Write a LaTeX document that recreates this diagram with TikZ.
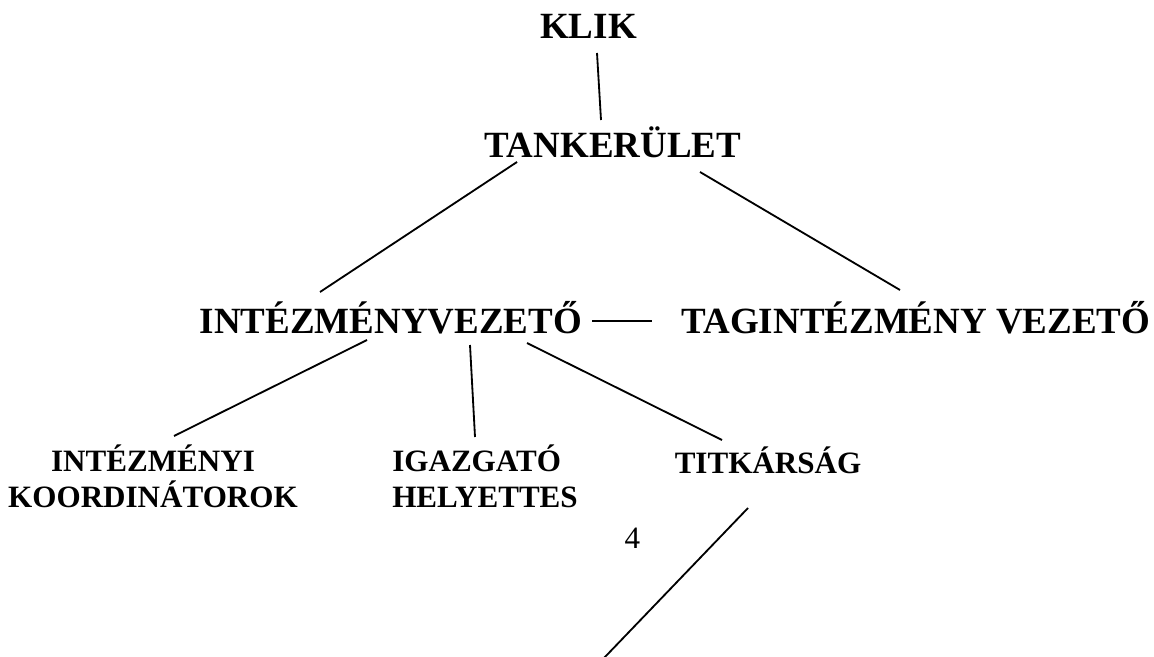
\documentclass[tikz,border=0pt]{standalone}
\usepackage{fontspec}
\setmainfont{Liberation Serif}
\usetikzlibrary{calc}

\begin{document}
\begin{tikzpicture}[
  x=0.025cm,y=-0.025cm,
  big/.style={inner sep=0pt,anchor=base,font=\bfseries\fontsize{26.3}{30}\selectfont},
  low/.style={inner sep=0pt,anchor=base,font=\bfseries\fontsize{22.1}{24.9}\selectfont},
  num/.style={inner sep=0pt,anchor=base,font=\fontsize{22.1}{25}\selectfont},
  conn/.style={line width=1.3pt}
]
\useasboundingbox (0,0) rectangle (1154,656);

\node[big] (klik)   at (588.5,39) {KLIK};
\node[big] (tank)   at (613,157)  {TANKERÜLET};
\node[big] (intvez) at (391,333)  {INTÉZMÉNYVEZETŐ};
\node[big] (tagint) at (916,333)  {TAGINTÉZMÉNY VEZETŐ};

% two-line nodes: base is the second line
\node[low,align=center] (koord) at (153,507) {INTÉZMÉNYI\\KOORDINÁTOROK};
\node[low,align=left]   (igh)   at (485,507) {IGAZGATÓ\\HELYETTES};
\node[low]              (titk)  at (768,473) {TITKÁRSÁG};

\node[num] (page) at (632.5,548) {4};

% free end of the last line, off the bottom edge
\coordinate (bottom) at (604,658);

% top part
\draw[conn] ($(klik.base)+(8.5,14)$) -- ($(tank.base)+(-12,-37)$);
\draw[conn] ($(tank.base)+(-96,5)$) -- ($(intvez.base)+(-71,-41)$);
\draw[conn] ($(tank.base)+(87,15)$) -- ($(tagint.base)+(-16,-43)$);
\draw[conn] ($(intvez.base)+(201,-12)$) -- ($(tagint.base)+(-264,-12)$);

% under INTÉZMÉNYVEZETŐ
\draw[conn] ($(intvez.base)+(-24,7)$) -- ($(koord.base)+(21,-71)$);
\draw[conn] ($(intvez.base)+(79,12)$) -- ($(igh.base)+(-10,-70)$);
\draw[conn] ($(intvez.base)+(136,10)$) -- ($(titk.base)+(-46,-33)$);

\draw[conn] ($(titk.base)+(-20,35)$) -- (bottom);
\end{tikzpicture}
\end{document}
